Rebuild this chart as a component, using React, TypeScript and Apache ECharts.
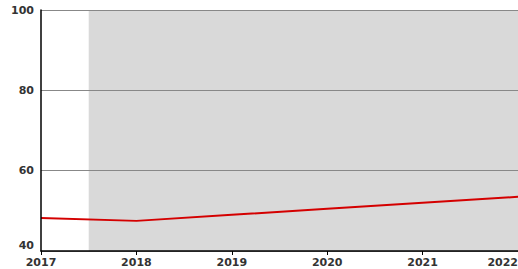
import React, { useEffect, useRef } from "react";
import * as echarts from "echarts";

const years = [2017, 2018, 2019, 2020, 2021, 2022];
const values = [48.2, 47.5, 49.0, 50.5, 52.0, 53.5];
const yTicks = [40, 60, 80, 100];
const shadeStart = 2017.5;
const shadeEnd = 2022;

export default function App() {
  const ref = useRef<HTMLDivElement>(null);
  useEffect(() => {
    if (!ref.current) return;
    const chart = echarts.init(ref.current, null, { renderer: "svg" });
    chart.setOption({
      animation: false,
      grid: { left: 41, right: 0, top: 10, bottom: 18, outerBoundsMode: "none", containLabel: false },
      xAxis: {
        type: "value",
        min: years[0],
        max: years[years.length - 1],
        interval: 1,
        z: 10,
        axisLine: { show: true, lineStyle: { color: "#000", width: 1.5 } },
        axisTick: { show: true, length: 4, lineStyle: { color: "#000" } },
        splitLine: { show: false },
        axisLabel: {
          formatter: (v: number) => String(v),
          color: "#333",
          fontFamily: "DejaVu Sans",
          fontWeight: "bold",
          fontSize: 11,
          margin: 6,
          hideOverlap: false,
          alignMaxLabel: "right",
        },
      },
      yAxis: {
        type: "value",
        min: yTicks[0],
        max: yTicks[yTicks.length - 1],
        interval: 20,
        z: 10,
        axisLine: { show: true, lineStyle: { color: "#000", width: 1.5 } },
        axisTick: { show: false },
        splitLine: { show: true, lineStyle: { color: "#888", width: 1 } },
        axisLabel: {
          color: "#333",
          fontFamily: "DejaVu Sans",
          fontWeight: "bold",
          fontSize: 11,
          margin: 7,
          verticalAlignMinLabel: "bottom",
        },
      },
      series: [
        {
          type: "line",
          data: years.map((y, i) => [y, values[i]]),
          symbol: "none",
          lineStyle: { color: "#d40000", width: 2 },
          z: 5,
          markArea: {
            silent: true,
            itemStyle: { color: "#d9d9d9" },
            data: [[{ xAxis: shadeStart }, { xAxis: shadeEnd }]],
          },
        },
      ],
    });
    return () => chart.dispose();
  }, []);
  return (
    <div
      ref={ref}
      style={{ position: "fixed", left: 0, top: 0, width: 518, height: 269, background: "#fff" }}
    />
  );
}
